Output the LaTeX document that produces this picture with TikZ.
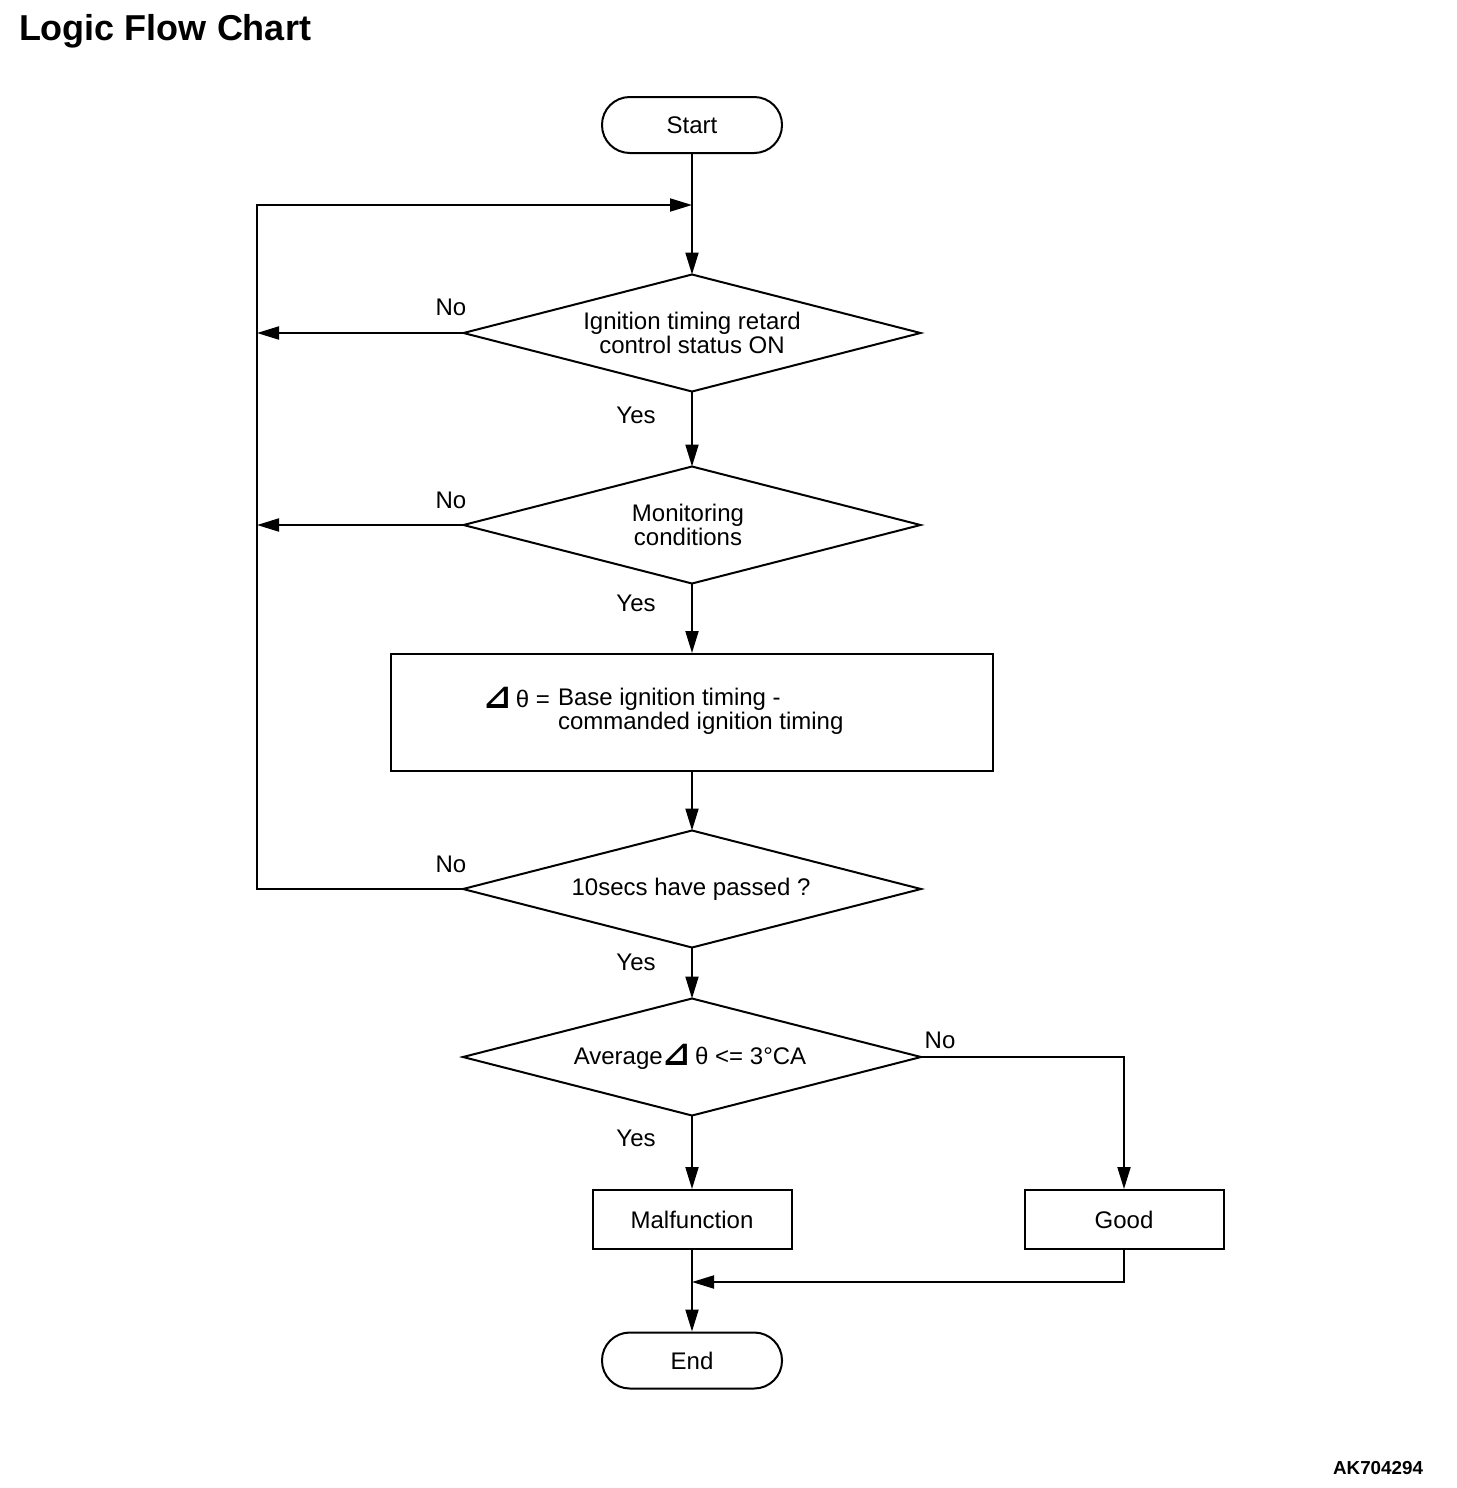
\documentclass[tikz,border=0pt]{standalone}
\usepackage{fontspec}
\setmainfont{Liberation Sans}
\newfontfamily\symfont{DejaVu Sans}
\newcommand\rtri{{\symfont\bfseries\fontsize{17}{17}\selectfont\raisebox{-0.5pt}{⊿}}}
\usetikzlibrary{arrows.meta}
\begin{document}
\begin{tikzpicture}[x=0.5pt,y=-0.5pt, line width=1pt,
  every node/.style={font=\fontsize{12}{12}\selectfont, inner sep=0pt},
  term/.style={draw, rounded corners=13.9pt, minimum width=90pt, minimum height=28pt},
  dframe/.style={minimum width=227.5pt, minimum height=57.5pt, align=center},
  procbox/.style={draw, minimum width=99.5pt, minimum height=29.5pt},
  arr/.style={-{Triangle[length=11pt,width=6.5pt]}}
]
\useasboundingbox (0,0) rectangle (1456,1488);
\node[anchor=base west, font=\fontsize{18}{18}\selectfont\bfseries] (title) at (18,40) {Logic Flow Chart};
\node[anchor=base east, font=\fontsize{9.4}{9.4}\selectfont\bfseries] (code) at (1424,1474) {AK704294};

\node[term] (start) at (692,125) {\raisebox{-1.5pt}{Start}};
\node[dframe] (d1) at (692,333) {Ignition timing retard\\[0pt]control status ON};
\draw (d1.north) -- (d1.east) -- (d1.south) -- (d1.west) -- cycle;
\node[dframe] (d2) at (692,525) {};
\draw (d2.north) -- (d2.east) -- (d2.south) -- (d2.west) -- cycle;
\node[align=center] (d2t) at (688,525) {Monitoring\\[0pt]conditions};
\node[draw, minimum width=301pt, minimum height=58.5pt] (calc) at (692,712.5) {};
\node[anchor=base east] (calcl) at (551,707) {\rtri\,θ =};
\node[anchor=west, align=left] (calct) at (557,711) {Base ignition timing -\\[0pt]commanded ignition timing};
\node[dframe, minimum width=228pt] (d3) at (692,889) {};
\draw (d3.north) -- (d3.east) -- (d3.south) -- (d3.west) -- cycle;
\node (d3t) at (691,889) {10secs have passed ?};
\node[dframe, minimum width=228pt] (d4) at (692,1057) {};
\draw (d4.north) -- (d4.east) -- (d4.south) -- (d4.west) -- cycle;
\node (d4t) at (690,1057) {Average\rtri\,θ <= 3°CA};
\node[procbox] (malf) at (692,1219.5) {Malfunction};
\node[procbox] (good) at (1124,1219.5) {Good};
\node[term] (endn) at (692,1360.5) {End};

\coordinate (top) at (692,205);
\coordinate (lt) at (257,205);
\coordinate (l1) at (257,333);
\coordinate (l2) at (257,525);
\coordinate (lb) at (257,889);
\coordinate (merge) at (692,1282);

\draw (start.south) -- (top);
\draw[arr] (top) -- (d1.north);
\draw[arr] (d1.west) -- (l1);
\draw[arr] (d1.south) -- (d2.north);
\draw[arr] (d2.west) -- (l2);
\draw[arr] (d2.south) -- (calc.north);
\draw[arr] (calc.south) -- (d3.north);
\draw[arr] (d3.west) -- (lb) -- (lt) -- (top);
\draw[arr] (d3.south) -- (d4.north);
\draw[arr] (d4.east) -| (good.north);
\draw[arr] (d4.south) -- (malf.north);
\draw[arr] (malf.south) -- (endn.north);
\draw[arr] (good.south) |- (merge);

\node (no1) at (451,307) {No};
\node (no2) at (451,500) {No};
\node (no3) at (451,864) {No};
\node (no4) at (940,1040) {No};
\node (yes1) at (636,415) {Yes};
\node (yes2) at (636,603) {Yes};
\node (yes3) at (636,962) {Yes};
\node (yes4) at (636,1138) {Yes};
\end{tikzpicture}
\end{document}
